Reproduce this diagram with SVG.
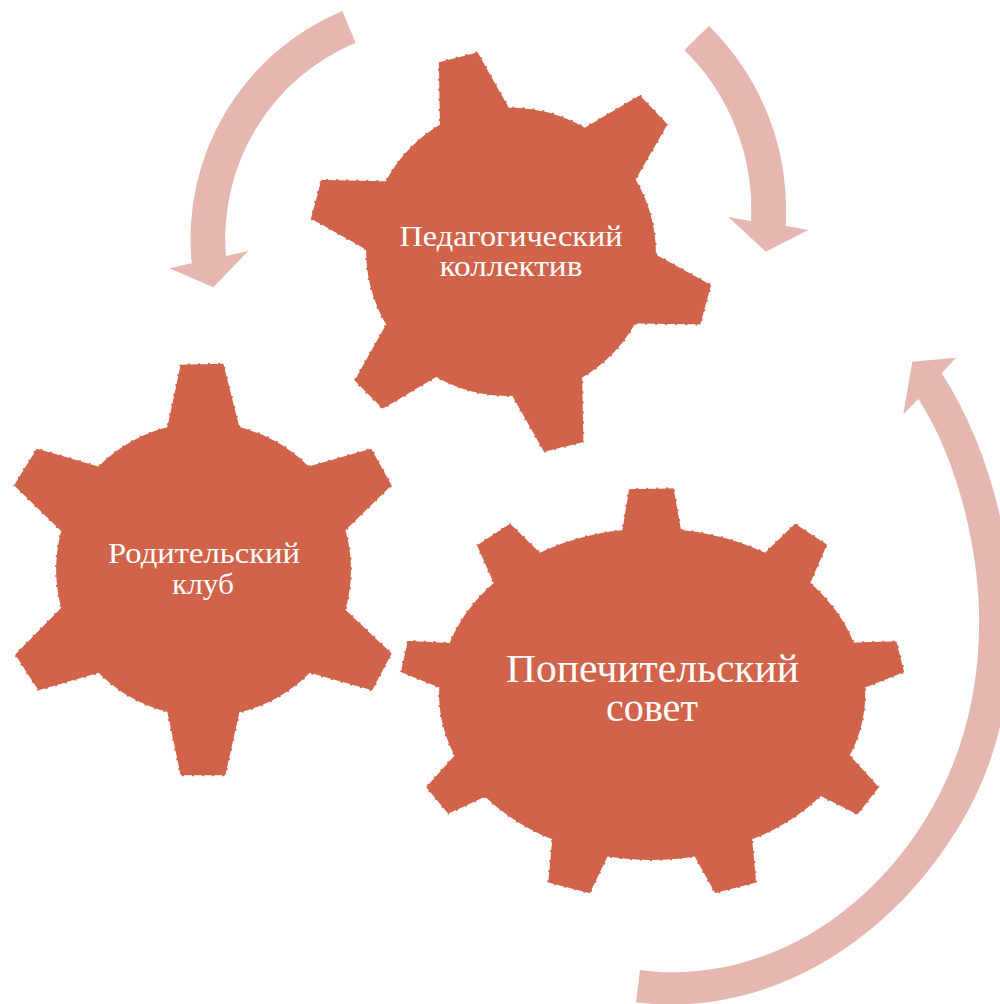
<svg xmlns="http://www.w3.org/2000/svg" width="1000" height="1004" viewBox="0 0 1000 1004">
<style>
.gear{fill:#D1634A;stroke:#fff;stroke-width:2;stroke-dasharray:8 2}
.arrow{fill:#E5B7B0}
text{font-family:"Liberation Serif","Noto Serif",serif;fill:#fff;text-anchor:middle}
.s{font-size:30px}
.l{font-size:39px}
</style>
<rect width="1000" height="1004" fill="#fff"/>
<g id="connectors">
<path class="arrow" d="M342.3,11 A247,247 0 0 0 191.7,263.3 L169.3,268.3 L213.3,287.3 L248.3,251 L226,256 A212,212 0 0 1 355.7,42.7 Z"/>
<path class="arrow" d="M709,26 A258,258 0 0 1 785.7,225.7 L808.3,230 L765.7,251.7 L728.3,217 L751,221 A224,224 0 0 0 684.3,50 Z"/>
<path class="arrow" d="M640,970 C750,985 860,925 925,820 C962,760 981,690 979,610 C977,540 955,455 918.3,399 L903.3,414.3 L912.3,361.7 L956,357.7 L941.7,373.3 C985,440 1010,530 1012,610 C1014,700 993,775 953,836 C880,950 760,1018 636,1002.3 Z"/>
</g>
<g id="node-pedagogical">
<path class="gear" transform="translate(511 252) scale(1.006) translate(-511 -252)" d="M438.3,62.7 L478.3,52.3 L509.3,107.7 A145,145 0 0 1 584.3,127.3 L639.3,95 L667.7,125 L636,180 A145,145 0 0 1 656,254 L711,284.3 L700,325 L635,324 A145,145 0 0 1 582.7,377.3 L584,441.7 L543.3,451.7 L511.7,396 A145,145 0 0 1 436.7,377.3 L383.3,409 L354.3,380 L385.7,324 A145,145 0 0 1 366,250 L311,219.3 L321.7,179.3 L386,180.7 A145,145 0 0 1 439.3,125 Z"/>
<text class="s" x="511" y="246" textLength="223" lengthAdjust="spacingAndGlyphs">Педагогический</text>
<text class="s" x="511" y="276" textLength="143" lengthAdjust="spacingAndGlyphs">коллектив</text>
</g>
<g id="node-parents">
<path class="gear" transform="translate(203 570) scale(1.006) translate(-203 -570)" d="M180,365 L224,364 L240,427.3 A147,147 0 0 1 308.3,466 L370.7,448.3 L391.7,486 L345.7,530.7 A147,147 0 0 1 345.7,609.3 L391.7,652.7 L371.7,690.7 L309.3,673.3 A147,147 0 0 1 240,712.3 L226,775 L180,775 L166.7,711.7 A147,147 0 0 1 99,673.3 L39,690.7 L15,654 L61,607.3 A147,147 0 0 1 61,531.7 L14,486 L37.3,448.3 L99,466 A147,147 0 0 1 166.7,427.3 Z"/>
<text class="s" x="204" y="563" textLength="192" lengthAdjust="spacingAndGlyphs">Родительский</text>
<text class="s" x="203" y="594" textLength="62" lengthAdjust="spacingAndGlyphs">клуб</text>
</g>
<g id="node-board">
<path class="gear" transform="translate(652 692) scale(1.005) translate(-652 -692)" d="M628.3,489.3 L674.3,488.3 L681.7,530 A213,165 0 0 1 764.3,552.3 L794.3,523.3 L827.3,545 L810.7,583.3 A213,165 0 0 1 853.3,641.7 L896,640.7 L904,672.7 L865,688.3 A213,165 0 0 1 850,755 L879,786.7 L856.7,815 L820,796.7 A213,165 0 0 1 752.7,839.3 L756.7,882.3 L714.3,893.3 L694,856.7 A213,165 0 0 1 608.3,856.7 L590.7,893.3 L547.7,882.3 L551.7,839.3 A213,165 0 0 1 485.7,797.3 L449,814.3 L426,786.7 L454.3,755 A213,165 0 0 1 439.3,688.3 L401,672.7 L408.3,640 L450,642.3 A213,165 0 0 1 493.3,583.3 L476.7,545.7 L511,523.3 L540.7,552.3 A213,165 0 0 1 621.7,530 Z"/>
<text class="l" x="652.500" y="682" textLength="293" lengthAdjust="spacingAndGlyphs">Попечительский</text>
<text class="l" x="652" y="721" textLength="92" lengthAdjust="spacingAndGlyphs">совет</text>
</g>
</svg>
